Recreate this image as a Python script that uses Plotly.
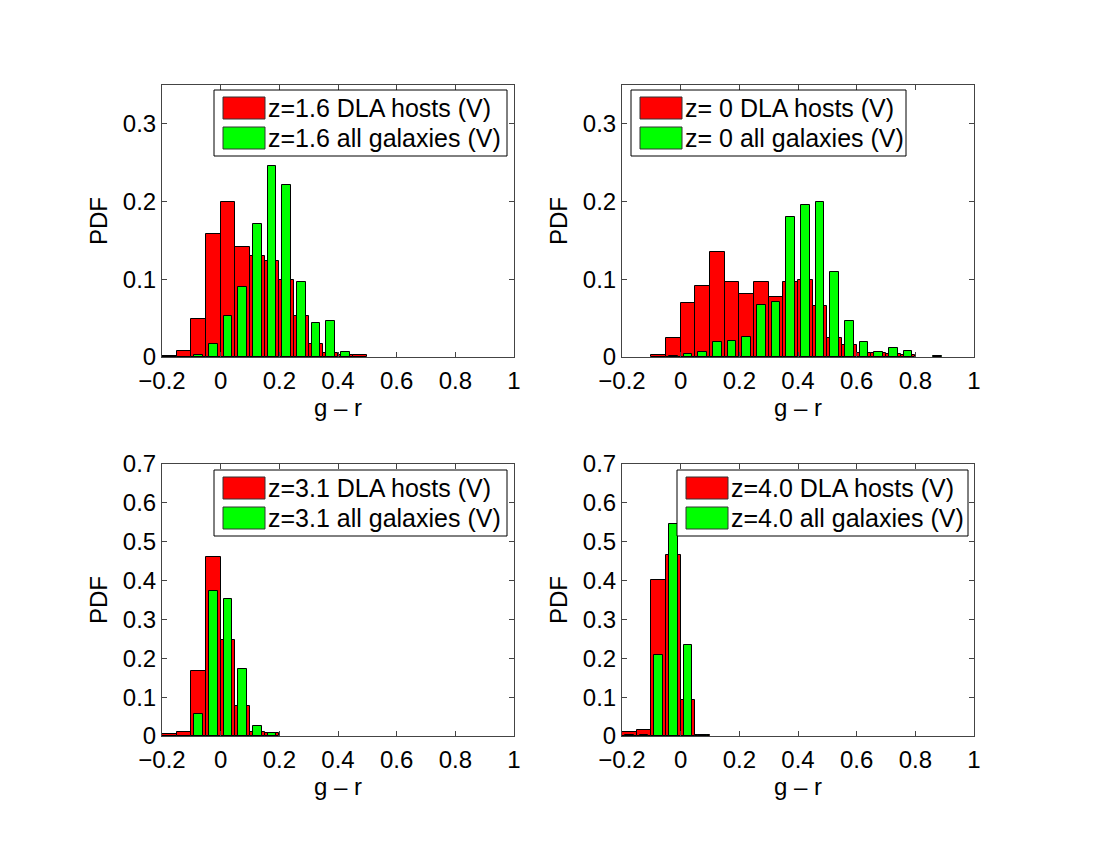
import plotly.graph_objects as go

# g - r histograms, bin width 0.05
# z=1.6
dla_x_16 = [-0.175, -0.125, -0.075, -0.025, 0.025, 0.075, 0.125, 0.175, 0.225, 0.275, 0.325, 0.375, 0.425, 0.475]
dla_y_16 = [0.001, 0.008, 0.049, 0.158, 0.199, 0.142, 0.130, 0.124, 0.099, 0.053, 0.017, 0.005, 0.003, 0.002]
all_x_16 = [-0.075, -0.025, 0.025, 0.075, 0.125, 0.175, 0.225, 0.275, 0.325, 0.375, 0.425]
all_y_16 = [0.003, 0.017, 0.053, 0.090, 0.171, 0.246, 0.221, 0.097, 0.044, 0.046, 0.007]

# z=0
dla_x_0 = [-0.075, -0.025, 0.025, 0.075, 0.125, 0.175, 0.225, 0.275, 0.325, 0.375, 0.425, 0.475, 0.525, 0.575, 0.625, 0.675, 0.725, 0.775]
dla_y_0 = [0.003, 0.025, 0.069, 0.092, 0.135, 0.096, 0.081, 0.096, 0.077, 0.096, 0.099, 0.065, 0.025, 0.016, 0.005, 0.005, 0.004, 0.003]
all_x_0 = [-0.025, 0.025, 0.075, 0.125, 0.175, 0.225, 0.275, 0.325, 0.375, 0.425, 0.475, 0.525, 0.575, 0.625, 0.675, 0.725, 0.775, 0.875]
all_y_0 = [0.001, 0.004, 0.007, 0.019, 0.021, 0.026, 0.067, 0.071, 0.180, 0.195, 0.200, 0.109, 0.046, 0.019, 0.007, 0.011, 0.008, 0.001]

# z=3.1
dla_x_31 = [-0.175, -0.125, -0.075, -0.025, 0.025, 0.075, 0.125, 0.175]
dla_y_31 = [0.005, 0.010, 0.167, 0.461, 0.246, 0.077, 0.010, 0.007]
all_x_31 = [-0.075, -0.025, 0.025, 0.075, 0.125, 0.175]
all_y_31 = [0.057, 0.372, 0.352, 0.172, 0.025, 0.009]

# z=4.0
dla_x_40 = [-0.175, -0.125, -0.075, -0.025, 0.025, 0.075]
dla_y_40 = [0.011, 0.015, 0.401, 0.467, 0.093, 0.002]
all_x_40 = [-0.175, -0.125, -0.075, -0.025, 0.025, 0.075]
all_y_40 = [0.002, 0.002, 0.208, 0.545, 0.233, 0.003]

xticks = [-0.2, 0, 0.2, 0.4, 0.6, 0.8, 1]
xticklabels = ['\u22120.2', '0', '0.2', '0.4', '0.6', '0.8', '1']

panels = [
    ('z=1.6 DLA hosts (V)', 'z=1.6 all galaxies (V)', dla_x_16, dla_y_16, all_x_16, all_y_16, 0.35, [0, 0.1, 0.2, 0.3]),
    ('z= 0 DLA hosts (V)', 'z= 0 all galaxies (V)', dla_x_0, dla_y_0, all_x_0, all_y_0, 0.35, [0, 0.1, 0.2, 0.3]),
    ('z=3.1 DLA hosts (V)', 'z=3.1 all galaxies (V)', dla_x_31, dla_y_31, all_x_31, all_y_31, 0.7, [0, 0.1, 0.2, 0.3, 0.4, 0.5, 0.6, 0.7]),
    ('z=4.0 DLA hosts (V)', 'z=4.0 all galaxies (V)', dla_x_40, dla_y_40, all_x_40, all_y_40, 0.7, [0, 0.1, 0.2, 0.3, 0.4, 0.5, 0.6, 0.7]),
]

# page body margin is 8px, so the figure is made a bit smaller and shifted
OFF = 8
W, H = 1100 - OFF, 850 - OFF
FONT = 'Liberation Sans, Arial, Helvetica, sans-serif'
FS = 24

def px(x):
    return (x - OFF) / W

def py(y):
    return 1 - (y - OFF) / H

# axes boxes in window pixels: left, right, top, bottom
boxes = [(162, 514, 85, 357), (622, 974, 85, 357), (162, 514, 464, 736), (622, 974, 464, 736)]
# legend boxes in window pixels: left, right, top, bottom
legboxes = [(214, 507, 90, 156), (631, 906, 90, 156), (214, 507, 470, 536), (677, 968, 470, 536)]

fig = go.Figure()
shapes = []
annotations = []

for i, (lab_dla, lab_all, dx, dy, ax_, ay, ymax, yt) in enumerate(panels):
    n = '' if i == 0 else str(i + 1)
    xa, ya = 'x' + n, 'y' + n
    fig.add_trace(go.Bar(x=dx, y=dy, width=0.05, marker=dict(color='#ff0000', line=dict(color='black', width=1)),
                         xaxis=xa, yaxis=ya, showlegend=False, name=lab_dla))
    fig.add_trace(go.Bar(x=ax_, y=ay, width=0.03, marker=dict(color='#00ff00', line=dict(color='black', width=1)),
                         xaxis=xa, yaxis=ya, showlegend=False, name=lab_all))

    l, r, t, b = boxes[i]
    common = dict(showgrid=False, zeroline=False, showline=True, linecolor='#444', linewidth=1,
                  mirror='ticks', ticks='inside', ticklen=5, tickcolor='#444', automargin=False,
                  tickfont=dict(family=FONT, size=FS, color='black'),
                  title_font=dict(family=FONT, size=FS, color='black'))
    fig.layout['xaxis' + n] = dict(domain=[px(l), px(r)], anchor=ya, range=[-0.2, 1],
                                   tickvals=xticks, ticktext=xticklabels, ticklabelstandoff=2,
                                   title=dict(text='g \u2013 r', standoff=0), **common)
    fig.layout['yaxis' + n] = dict(domain=[py(b), py(t)], anchor=xa, range=[0, ymax],
                                   tickvals=yt, ticktext=[('%g' % v) for v in yt],
                                   title=dict(text='PDF', standoff=8), **common)

    # legend
    ll, lr, lt, lb = legboxes[i]
    shapes.append(dict(type='rect', xref='paper', yref='paper', x0=px(ll), x1=px(lr), y0=py(lb), y1=py(lt),
                       line=dict(color='black', width=1), fillcolor='white', layer='above'))
    for j, (col, lab) in enumerate([('#ff0000', lab_dla), ('#00ff00', lab_all)]):
        yt0 = lt + 7 + j * 30
        shapes.append(dict(type='rect', xref='paper', yref='paper', x0=px(ll + 9), x1=px(ll + 51),
                           y0=py(yt0 + 22), y1=py(yt0), line=dict(color='#333', width=1),
                           fillcolor=col, layer='above'))
        annotations.append(dict(xref='paper', yref='paper', x=px(ll + 52), y=py(yt0 + 11), text=lab,
                                showarrow=False, xanchor='left', yanchor='middle',
                                font=dict(family=FONT, size=FS + 1, color='black')))

fig.update_layout(width=W, height=H, margin=dict(l=0, r=0, t=0, b=0),
                  paper_bgcolor='white', plot_bgcolor='white', barmode='overlay', bargap=0,
                  shapes=shapes, annotations=annotations, showlegend=False)

fig.write_html('out.html')
